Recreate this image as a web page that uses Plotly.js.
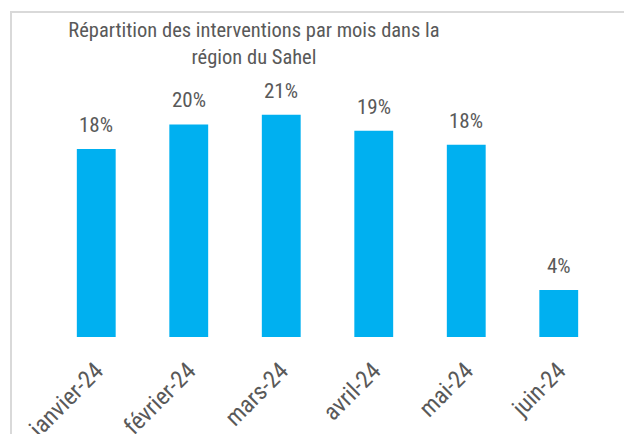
<!DOCTYPE html>
<html>
<head>
<meta charset="utf-8">
<script src="https://cdn.plot.ly/plotly-3.0.1.min.js"></script>
<style>
  html, body { margin: 0; padding: 0; background: #fff; overflow: hidden; }
  #wrap { position: relative; width: 624px; height: 434px; }
  #chart { position: absolute; left: 0; top: 0; width: 624px; height: 434px; }
  #frame { position: absolute; left: 10px; top: 11px; width: 640px; height: 450px;
           border-left: 2px solid #d9d9d9; border-top: 2px solid #d9d9d9; pointer-events: none; }
</style>
</head>
<body>
<div id="wrap">
  <div id="chart"></div>
  <div id="frame"></div>
</div>
<script>
const categories = ["janvier-24", "février-24", "mars-24", "avril-24", "mai-24", "juin-24"];
const values = [17.6, 19.9, 20.8, 19.3, 18.0, 4.4];
const labels = ["18%", "20%", "21%", "19%", "18%", "4%"];
const titleText = "Répartition des interventions par mois dans la<br>région du Sahel";

const FONT = '"Liberation Sans Narrow", "Roboto Condensed", Roboto, sans-serif';
const TXT = '#595959';

const trace = {
  type: 'bar',
  x: categories,
  y: values,
  marker: { color: '#00B0F0' },
  hoverinfo: 'none'
};

const annotations = categories.map((c, i) => ({
  x: c, y: values[i], text: labels[i],
  showarrow: false, yanchor: 'bottom', yshift: 10,
  font: { family: FONT, size: 21, color: TXT }
}));

const layout = {
  width: 624, height: 434,
  margin: { l: 50, r: 19, t: 102, b: 97 },
  paper_bgcolor: '#fff', plot_bgcolor: '#fff',
  bargap: 0.58,
  showlegend: false,
  title: {
    text: titleText,
    font: { family: FONT, size: 20.5, color: TXT },
    xref: 'container', x: 254 / 624, xanchor: 'center',
    yref: 'container', y: 1 - 37 / 434, yanchor: 'top'
  },
  xaxis: {
    type: 'category',
    tickangle: -45,
    showline: false, showgrid: false, zeroline: false,
    ticks: '',
    ticklabelstandoff: 14,
    tickfont: { family: FONT, size: 24, color: TXT },
    automargin: false
  },
  yaxis: {
    range: [0, 22],
    visible: false,
    showgrid: false, zeroline: false
  },
  annotations: annotations
};

Plotly.newPlot('chart', [trace], layout, { displayModeBar: false, staticPlot: true });
</script>
</body>
</html>
